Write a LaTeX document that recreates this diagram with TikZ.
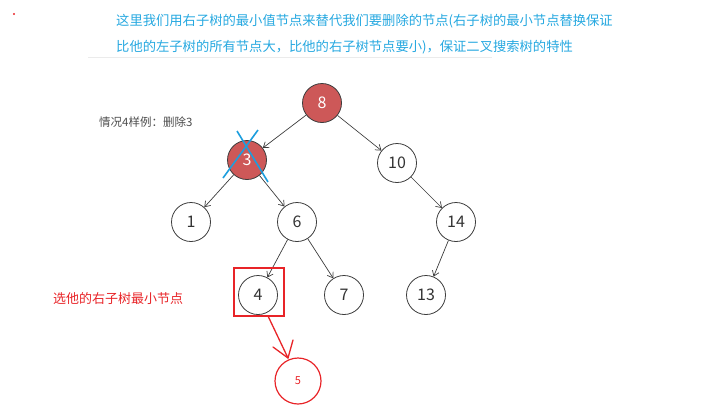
\documentclass[tikz,border=0pt]{standalone}
\usepackage{fontspec}
\setmainfont{Noto Sans CJK SC}
\usetikzlibrary{arrows.meta}
\definecolor{nodered}{RGB}{205,88,88}
\definecolor{txtblue}{RGB}{38,168,224}
\definecolor{xblue}{RGB}{28,158,222}
\definecolor{hred}{RGB}{232,36,40}
\definecolor{edge}{RGB}{60,60,60}
\begin{document}
\begin{tikzpicture}[x=1pt,y=-1pt,
  tnode/.style={circle,draw=edge,line width=0.8pt,minimum size=39pt,inner sep=0pt,font=\fontsize{16}{18}\selectfont,text=black!80},
  rnode/.style={tnode,fill=nodered,text=white},
  link/.style={draw=edge,line width=0.7pt,-{Straight Barb[length=5pt,width=7pt]}}]
\useasboundingbox (0,0) rectangle (714,408);
\fill[hred] (14,14) circle (1.2pt);
\node[anchor=west,text=txtblue,font=\fontsize{13.3}{15}\selectfont,inner sep=0pt] (t1) at (116,21) {这里我们用右子树的最小值节点来替代我们要删除的节点(右子树的最小节点替换保证};
\node[anchor=west,text=txtblue,font=\fontsize{13.3}{15}\selectfont,inner sep=0pt] (t2) at (116,47) {比他的左子树的所有节点大，比他的右子树节点要小)，保证二叉搜索树的特性};
\draw[black!8,line width=1pt] (88,57) -- (492,57);
\node[anchor=west,text=black!70,font=\fontsize{11.5}{13}\selectfont,inner sep=0pt] (case) at (99,122) {情况4样例：删除3};
\node[anchor=west,text=hred,font=\fontsize{13}{15}\selectfont,inner sep=0pt] (sel) at (53,299) {选他的右子树最小节点};

\node[rnode] (n8) at (322,103) {8};
\node[rnode] (n3) at (247,160) {3};
\node[tnode] (n10) at (397,163) {10};
\node[tnode] (n1) at (191,222) {1};
\node[tnode] (n6) at (297,222) {6};
\node[tnode] (n14) at (456,222) {14};
\node[tnode] (n4) at (258,295) {4};
\node[tnode] (n7) at (344,295) {7};
\node[tnode] (n13) at (426,295) {13};

\draw[link] (n8) -- (n3);
\draw[link] (n8) -- (n10);
\draw[link] (n3) -- (n1);
\draw[link] (n3) -- (n6);
\draw[link] (n10) -- (n14);
\draw[link] (n6) -- (n4);
\draw[link] (n6) -- (n7);
\draw[link] (n14) -- (n13);

\draw[xblue,line width=1.6pt] (237,131) -- (268,182);
\draw[xblue,line width=1.6pt] (258,130) -- (223,178);

\node[draw=hred,line width=1.3pt,minimum width=50pt,minimum height=48pt,inner sep=0pt] (box) at (259,292) {};
\node[circle,draw=hred,line width=1.2pt,minimum size=46pt,inner sep=0pt,text=hred,font=\fontsize{11}{13}\selectfont] (n5) at (298,381) {5};
\coordinate (a0) at (268,316);
\coordinate (a1) at (288,358);
\draw[hred,line width=1.3pt,line cap=round,line join=round] (a0) -- (a1);
\draw[hred,line width=1.3pt,line cap=round,line join=round] (273,347) -- (a1) -- (293,340);
\end{tikzpicture}
\end{document}
